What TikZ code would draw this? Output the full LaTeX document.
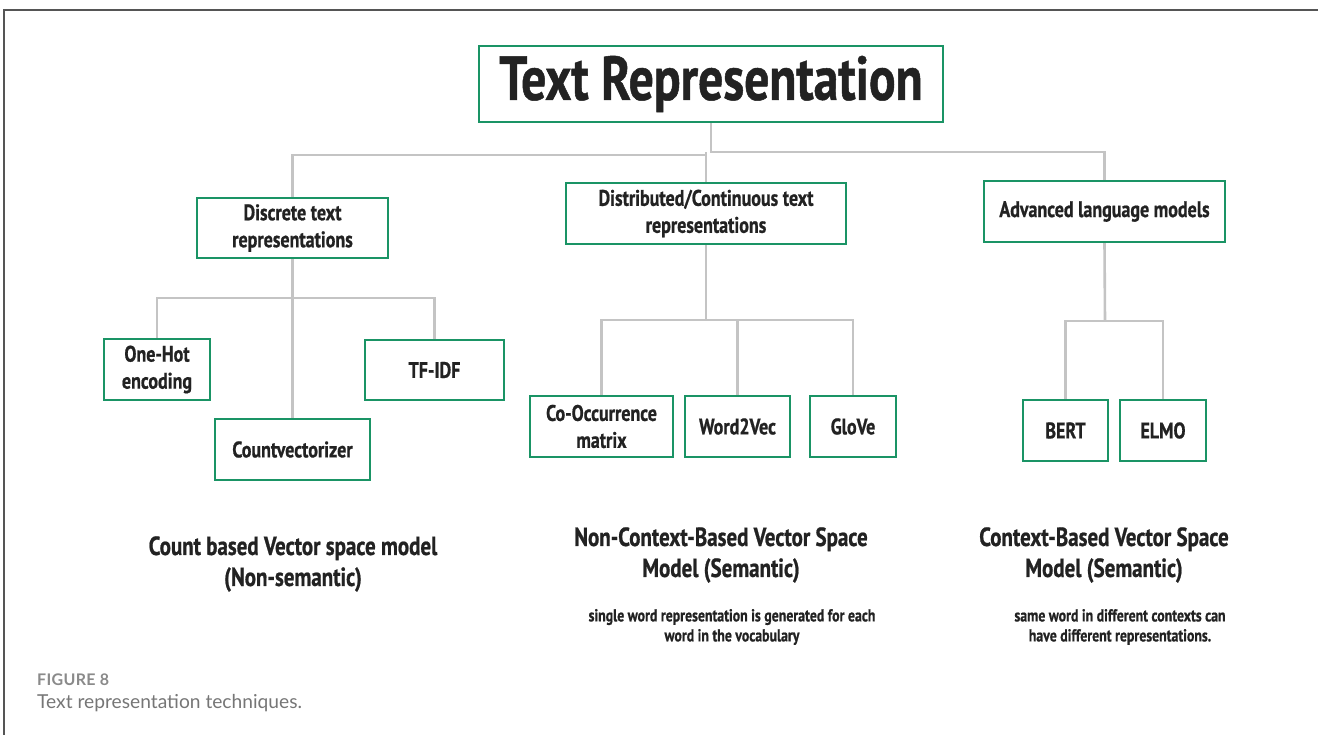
\documentclass[tikz,border=0pt]{standalone}
\usepackage{fontspec}
\newfontfamily\cond[FakeStretch=0.8,FakeBold=0.8]{PT Sans}
\newfontfamily\capfont{Lato}
\newfontfamily\capfontsp[LetterSpace=2]{Lato}
\definecolor{boxgreen}{HTML}{1A9465}
\definecolor{linegray}{HTML}{C4C4C4}
\definecolor{txt}{HTML}{222222}
\definecolor{framegray}{HTML}{555555}
\definecolor{capgray}{HTML}{8A8A8A}
\definecolor{capgray2}{HTML}{767676}
\begin{document}
\begin{tikzpicture}[x=1pt,y=-1pt,
  box/.style={draw=boxgreen,line width=2.4pt,inner sep=0pt,align=center,text=txt,
     font=\cond\bfseries\fontsize{22.5}{27}\selectfont},
  conn/.style={draw=linegray,line width=2.6pt},
  bigtxt/.style={align=center,text=txt,font=\cond\bfseries\fontsize{26.2}{31}\selectfont},
  smalltxt/.style={align=center,text=txt,font=\cond\bfseries\fontsize{17.3}{20}\selectfont}]
\useasboundingbox (0,0) rectangle (1318,735);
\fill[white] (0,0) rectangle (1318,735);
% frame
\draw[framegray,line width=1.3pt] (4,735) -- (4,10) -- (1318,10);
% nodes
\node[box,minimum width=464,minimum height=76,font=\cond\bfseries\fontsize{62}{64}\selectfont] (root) at (711,84) {\raisebox{3pt}{Text Representation}};
\node[box,minimum width=191,minimum height=60] (disc) at (292.5,228) {Discrete text\\representations};
\node[box,minimum width=280,minimum height=61] (dist) at (706,213.5) {Distributed/Continuous text\\representations};
\node[box,minimum width=241,minimum height=61] (adv) at (1104.5,211.5) {\raisebox{-1.5pt}{Advanced language models}};
\node[box,minimum width=106,minimum height=61] (onehot) at (157,369.5) {One-Hot\\encoding};
\node[box,minimum width=139,minimum height=60] (tfidf) at (434.5,370) {TF-IDF};
\node[box,minimum width=155,minimum height=61] (countv) at (292.5,449.5) {Countvectorizer};
\node[box,minimum width=143,minimum height=61] (cooc) at (601.5,426.5) {Co-Occurrence\\matrix};
\node[box,minimum width=105,minimum height=61] (w2v) at (737.5,426.5) {Word2Vec};
\node[box,minimum width=86,minimum height=61] (glove) at (853,426.5) {GloVe};
\node[box,minimum width=85,minimum height=61] (bert) at (1065.5,430.5) {BERT};
\node[box,minimum width=86,minimum height=61] (elmo) at (1163,430.5) {ELMO};
% junctions
\coordinate (rj) at (711,152);
\coordinate (lj) at (706,155);
\coordinate (dj) at (292.5,298);
\coordinate (cj) at (706,320);
\coordinate (aj) at (1105,321);
% connectors
\draw[conn] (root.south) -- (rj) -| (adv.north);
\draw[conn] (dist.north) -- (dist.north |- rj);
\draw[conn] (lj) -| (disc.north);
\draw[conn] (disc.south) -- (dj);
\draw[conn] (onehot.north) |- (dj) -| (tfidf.north);
\draw[conn] (dj) -- (countv.north);
\draw[conn] (dist.south) -- (cj);
\draw[conn] (cooc.north) |- (cj) -| (glove.north);
\draw[conn] (cj) -| (w2v.north);
\draw[conn] (adv.south) -- (aj);
\draw[conn] (bert.north) |- (aj) -| (elmo.north);
% bottom texts
\node[bigtxt] (t1) at (293,564) {Count based Vector space model\\(Non-semantic)};
\node[bigtxt] (t2) at (721,555) {Non-Context-Based Vector Space\\Model (Semantic)};
\node[bigtxt] (t3) at (1104,555) {Context-Based Vector Space\\Model (Semantic)};
\node[smalltxt] (s2) at (732,627) {single word representation is generated for each\\word in the vocabulary};
\node[smalltxt] (s3) at (1120,627) {same word in different contexts can\\have different representations.};
% caption
\node[anchor=west,inner sep=0pt,text=capgray,font=\capfontsp\bfseries\fontsize{16}{18}\selectfont] (fig) at (37,680) {FIGURE 8};
\node[anchor=west,inner sep=0pt,text=capgray2,font=\capfont\fontsize{19.2}{22}\selectfont] (cap) at (37,703) {Text representation techniques.};
\end{tikzpicture}
\end{document}
